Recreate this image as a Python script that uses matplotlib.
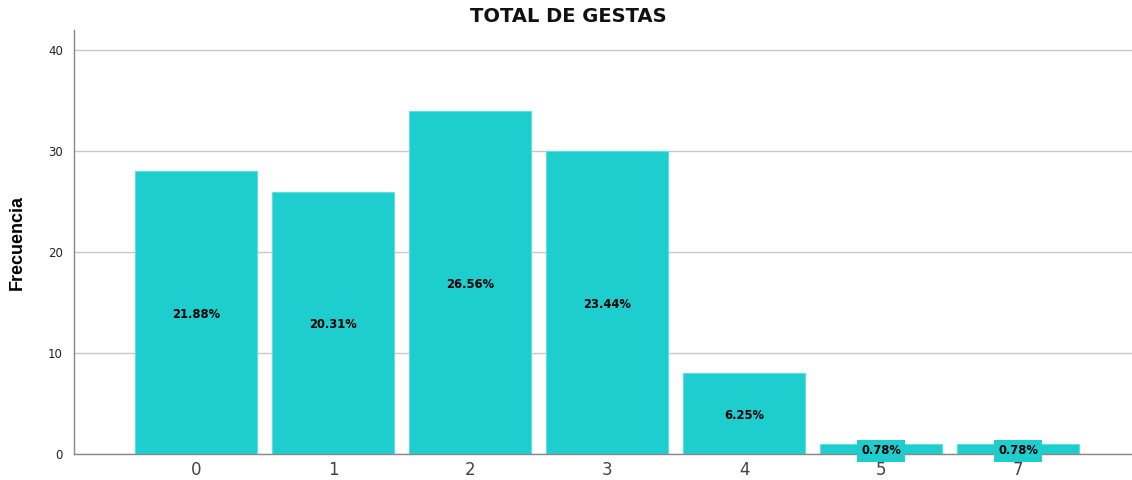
import matplotlib
matplotlib.use("Agg")
import matplotlib.pyplot as plt

categories = ["0", "1", "2", "3", "4", "5", "7"]
counts = [28, 26, 34, 30, 8, 1, 1]
percents = ["21.88%", "20.31%", "26.56%", "23.44%", "6.25%", "0.78%", "0.78%"]

plt.rcParams['font.family'] = ['DejaVu Sans']

fig = plt.figure(figsize=(11.32, 4.8), dpi=100)
ax = fig.add_axes([74/1132, 1-454/480, 1-74/1132, (454-30)/480])

color = "#1ecdcd"
x = list(range(len(categories)))
bars = ax.bar(x, counts, width=0.89, color=color, edgecolor="#5fe0e0", linewidth=0.8, zorder=3)

for xi, c, p in zip(x, counts, percents):
    kw = dict(ha="center", va="center", fontsize=8.3, fontweight="bold", color="black", zorder=5)
    if c < 3:
        kw["bbox"] = dict(boxstyle="square,pad=0.35", facecolor=color, edgecolor="none")
    ax.text(xi, c/2 - 0.2, p, **kw)

ax.set_xlim(-0.8905, 6.832)
ax.set_ylim(0, 42)
ax.set_yticks([0, 10, 20, 30, 40])
ax.set_xticks(x)
ax.set_xticklabels(categories, fontsize=12, color="#444444")
ax.tick_params(axis="y", labelsize=8.5, colors="#222222", length=0, pad=8)
ax.tick_params(axis="x", length=0, pad=5)
ax.yaxis.grid(True, color="#c8c8c8", linewidth=1, zorder=0)
ax.set_axisbelow(True)
for s in ["top", "right"]:
    ax.spines[s].set_visible(False)
for s in ["left", "bottom"]:
    ax.spines[s].set_color("#888888")
    ax.spines[s].set_linewidth(1)
    ax.spines[s].set_zorder(4)

ax.set_ylabel("Frecuencia", fontsize=13, fontweight="bold",
              family=["Liberation Sans Narrow", "Liberation Sans", "DejaVu Sans"], labelpad=16)
fig.text(568/1132, 1-16/480, "TOTAL DE GESTAS", ha="center", va="center",
         fontsize=14, fontweight="bold", color="#111111")

fig.savefig("out.png", dpi=100)
